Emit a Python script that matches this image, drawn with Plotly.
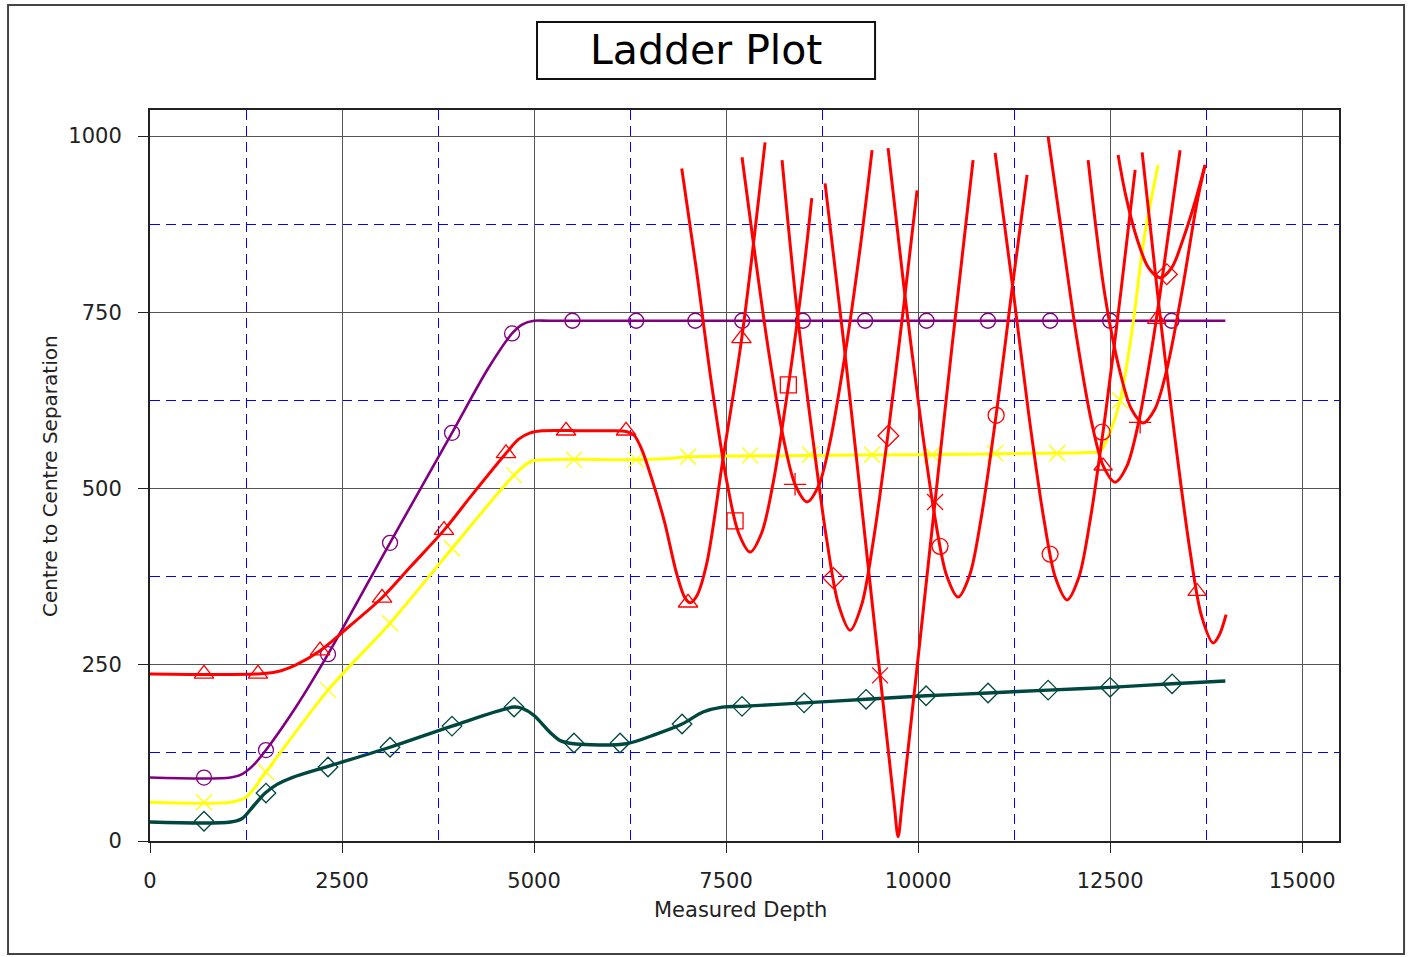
import plotly.graph_objects as go

# ---------------- data ----------------
purple_x = [0, 1050, 1200, 1350, 1510, 1900, 2318, 3125, 3932, 4400, 4714, 4850, 5000, 5200, 8000, 14000]
purple_y = [90, 90, 95, 108, 129, 190, 265, 423, 579, 670, 720, 733, 738, 738, 738, 738]
purple_mx = [703, 1510, 2318, 3125, 3932, 4714, 5500, 6330, 7100, 7710, 8500, 9310, 10110, 10910, 11720, 12500, 13300]
purple_my = [90, 129, 265, 423, 579, 720, 738, 738, 738, 738, 738, 738, 738, 738, 738, 738, 738]

yellow_x = [0, 1050, 1250, 1510, 2318, 3125, 3932, 4740, 4950, 5200, 6330, 6800, 7000, 8500, 10000, 11500,
            12200, 12370, 12480, 12630, 12780, 12950, 13125]
yellow_y = [55, 55, 62, 98, 214, 309, 415, 519, 538, 541, 541, 543, 545, 547, 548, 550,
            551, 553, 575, 625, 720, 860, 959]
yellow_mx = [703, 1510, 2318, 3125, 3932, 4740, 5520, 6330, 7005, 7813, 8594, 9401, 10182, 11003, 11810, 12630]
yellow_my = [55, 98, 214, 309, 415, 519, 541, 541, 545, 547, 548, 548, 548, 550, 550, 625]

green_x = [0, 1050, 1200, 1350, 1500, 1650, 1850, 2318, 3125, 3932, 4740, 4850, 5000, 5200, 5350, 5520, 6200,
           6600, 6927, 7200, 7450, 7708, 8516, 9323, 10104, 10911, 11693, 12500, 13307, 14000]
green_y = [27, 27, 32, 50, 68, 80, 90, 106, 133, 163, 190, 188, 178, 155, 142, 138, 138,
           152, 166, 183, 190, 191, 196, 201, 206, 210, 214, 218, 223, 227]
green_mx = [703, 1510, 2318, 3125, 3932, 4740, 5520, 6120, 6927, 7708, 8516, 9323, 10104, 10911, 11693, 12500, 13307]
green_my = [28, 68, 105, 133, 163, 190, 139, 139, 166, 191, 196, 201, 206, 210, 214, 218, 223]

red_x = [0, 1400, 1650, 1900, 2214, 2600, 3021, 3400, 3828, 4200, 4635, 4800, 4950, 5100, 5600, 6000, 6200,
         6300, 6400, 6550, 6700, 6850, 6960, 7031, 7120, 7249, 7461, 7704, 8008]
red_y = [237, 237, 240, 250, 270, 305, 345, 390, 441, 492, 550, 570, 579, 582, 582, 582, 581,
         576, 556, 508, 452, 382, 346, 338, 348, 394, 543, 713, 991]
red_mx = [703, 1406, 2214, 3021, 3828, 4635, 5417, 6198, 7005, 7700]
red_my = [237, 237, 270, 345, 441, 550, 582, 582, 338, 713]

# Offset-well approach curves (red)
offA_x = [6923, 7113, 7313, 7513, 7663, 7813, 7963, 8113, 8313, 8513, 8616]
offA_y = [954, 811, 647, 508, 437, 410, 437, 508, 647, 811, 912]
offA_mx = [7617, 8311]
offA_my = [454, 647]

offC_x = [7708, 7855, 8055, 8255, 8405, 8555, 8705, 8855, 9055, 9255, 9401]
offC_y = [970, 849, 694, 567, 504, 481, 504, 567, 694, 849, 980]
offC_mx = [8398]
offC_my = [506]

offD_x = [8229, 8415, 8615, 8815, 8965, 9115, 9265, 9415, 9615, 9815, 9987]
offD_y = [966, 761, 583, 424, 335, 299, 335, 424, 583, 761, 923]
offD_mx = [8897, 9613]
offD_my = [373, 575]

offE_x = [8789, 9040, 9340, 9590, 9690, 9740, 9790, 9890, 10140, 10440, 10716]
offE_y = [933, 700, 400, 150, 51, 6, 51, 150, 400, 700, 966]
offE_mx = [9505, 10221]
offE_my = [235, 481]

offF_x = [9609, 9821, 10021, 10221, 10371, 10521, 10671, 10821, 11021, 11221, 11419]
offF_y = [983, 781, 608, 458, 377, 346, 377, 458, 608, 781, 945]
offF_mx = [10286, 11016]
offF_my = [418, 604]

offG_x = [11003, 11240, 11440, 11640, 11790, 11940, 12090, 12240, 12440, 12640, 12826]
offG_y = [976, 779, 606, 455, 373, 342, 373, 455, 606, 779, 952]
offG_mx = [11719, 12396]
offG_my = [407, 580]

offH_x = [11693, 11865, 12065, 12265, 12415, 12565, 12715, 12865, 13065, 13265, 13411]
offH_y = [999, 866, 714, 591, 531, 509, 531, 591, 714, 866, 980]
offH_mx = [12409, 13107]
offH_my = [532, 740]

offI_x = [12214, 12430, 12630, 12780, 12930, 13080, 13230, 13430, 13630, 13737]
offI_y = [966, 776, 665, 612, 593, 612, 665, 776, 905, 959]
offI_mx = [12891]
offI_my = [594]

offK_x = [12604, 12701, 12851, 13001, 13151, 13301, 13451, 13601, 13737]
offK_y = [973, 917, 854, 813, 799, 813, 854, 905, 959]
offK_mx = [13238]
offK_my = [804]

offJ_x = [12917, 13141, 13341, 13541, 13691, 13841, 13921, 14010]
offJ_y = [977, 754, 574, 411, 319, 281, 292, 321]
offJ_mx = [13633]
offJ_my = [354]

x_ticks = [0, 2500, 5000, 7500, 10000, 12500, 15000]
x_labels = ["0", "2500", "5000", "7500", "10000", "12500", "15000"]
y_ticks = [0, 250, 500, 750, 1000]
y_labels = ["0", "250", "500", "750", "1000"]

# ---------------- styling ----------------
PURPLE = "#800080"
YELLOW = "#ffff00"
GREEN = "#00473f"
RED = "#ff0000"
FONT = "DejaVu Sans"

fig = go.Figure()


def add_curve(x, y, mx, my, color, width, symbol, msize):
    fig.add_trace(go.Scatter(x=x, y=y, mode="lines",
                             line=dict(color=color, width=width, shape="spline", smoothing=0.9),
                             hoverinfo="skip", showlegend=False))
    fig.add_trace(go.Scatter(x=mx, y=my, mode="markers",
                             marker=dict(symbol=symbol, size=msize, color=color,
                                         line=dict(color=color, width=1.3)),
                             hoverinfo="skip", showlegend=False))


add_curve(purple_x, purple_y, purple_mx, purple_my, PURPLE, 2.6, "circle-open", 15)
add_curve(yellow_x, yellow_y, yellow_mx, yellow_my, YELLOW, 3, "x-thin", 16)
add_curve(green_x, green_y, green_mx, green_my, GREEN, 3.4, "diamond-open", 15)
add_curve(red_x, red_y, red_mx, red_my, RED, 3, "triangle-up-open", 17)

offsets = [
    (offA_x, offA_y, offA_mx, offA_my, "square-open"),
    (offC_x, offC_y, offC_mx, offC_my, "cross-thin"),
    (offD_x, offD_y, offD_mx, offD_my, "diamond-open"),
    (offE_x, offE_y, offE_mx, offE_my, "x-thin"),
    (offF_x, offF_y, offF_mx, offF_my, "circle-open"),
    (offG_x, offG_y, offG_mx, offG_my, "circle-open"),
    (offH_x, offH_y, offH_mx, offH_my, "triangle-up-open"),
    (offI_x, offI_y, offI_mx, offI_my, "cross-thin"),
    (offK_x, offK_y, offK_mx, offK_my, "diamond-open"),
    (offJ_x, offJ_y, offJ_mx, offJ_my, "triangle-up-open"),
]
for ox, oy, omx, omy, sym in offsets:
    add_curve(ox, oy, omx, omy, RED, 3, sym, 16)

axis_common = dict(
    showline=True, linecolor="#222222", linewidth=2, mirror=True,
    ticks="outside", ticklen=10, tickcolor="#222222", tickwidth=1,
    showgrid=True, gridcolor="#555555", gridwidth=1,
    zeroline=False,
    tickfont=dict(family=FONT, size=21, color="#222222"),
)

fig.update_layout(
    width=1409, height=957,
    margin=dict(l=150, r=70, t=110, b=116),
    paper_bgcolor="white", plot_bgcolor="white",
    showlegend=False,
    xaxis=dict(range=[0, 15480], tickvals=x_ticks, ticktext=x_labels, ticklabelstandoff=10,
               minor=dict(tick0=1250, dtick=2500, showgrid=True, gridcolor="#0000ff",
                          griddash="10px,6px", gridwidth=1.2, ticks=""),
               **axis_common),
    yaxis=dict(range=[0, 1037], tickvals=y_ticks, ticktext=y_labels, ticklabelstandoff=12,
               minor=dict(tick0=125, dtick=250, showgrid=True, gridcolor="#0000ff",
                          griddash="10px,6px", gridwidth=1.2, ticks=""),
               **axis_common),
)

# Axis titles
fig.add_annotation(text="Measured Depth", xref="paper", yref="paper", x=0.497, y=-0.094,
                   showarrow=False, font=dict(family=FONT, size=21, color="#222222"),
                   xanchor="center", yanchor="middle")
fig.add_annotation(text="Centre to Centre Separation", xref="paper", yref="paper", x=-0.0841, y=0.4993,
                   textangle=-90, showarrow=False, font=dict(family=FONT, size=20, color="#222222"),
                   xanchor="center", yanchor="middle")

# Title in a box
fig.add_shape(type="rect", xref="paper", yref="paper", x0=0.3255, x1=0.6098, y0=1.0424, y1=1.1204,
              line=dict(color="#111111", width=2), fillcolor="white")
fig.add_annotation(text="Ladder Plot", xref="paper", yref="paper", x=0.4676, y=1.0821,
                   showarrow=False, font=dict(family=FONT, size=41, color="black"),
                   xanchor="center", yanchor="middle")

# Outer frame
fig.add_shape(type="rect", xref="paper", yref="paper", x0=-0.1194, x1=1.0547, y0=-0.1546, y1=1.1436,
              line=dict(color="#444444", width=2))

fig.write_html("out.html")
